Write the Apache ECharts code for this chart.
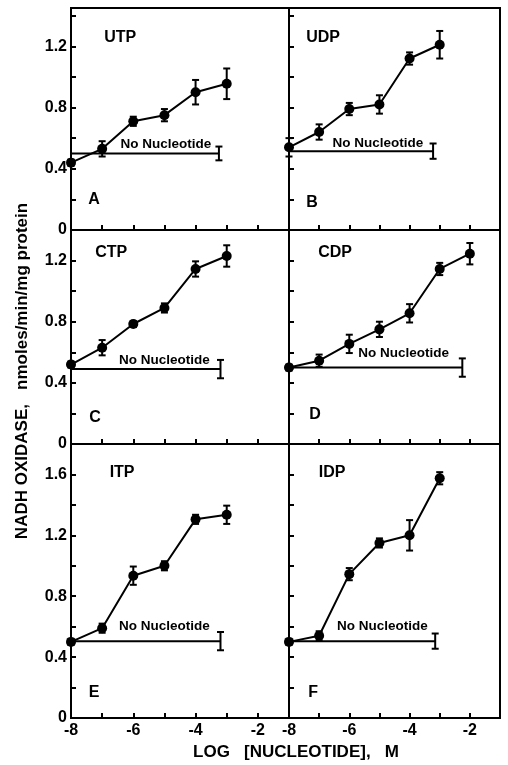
<!DOCTYPE html>
<html>
<head>
<meta charset="utf-8">
<script src="https://cdn.jsdelivr.net/npm/echarts@6/dist/echarts.min.js"></script>
<style>
  html, body { margin: 0; background: #fff; }
  #chart { width: 508px; height: 765px; }
</style>
</head>
<body>
<div id="chart"></div>
<script>
// log [nucleotide] values (M)
const logConc = [-8, -7, -6, -5, -4, -3];
const logConcCDP = [-8, -7, -6, -5, -4, -3, -2];

// NADH oxidase, nmoles/min/mg protein, with error half-widths
const utp = [0.44, 0.53, 0.71, 0.75, 0.90, 0.955];
const utpErr = [0.02, 0.05, 0.03, 0.04, 0.08, 0.10];
const udp = [0.54, 0.64, 0.79, 0.82, 1.12, 1.21];
const udpErr = [0.06, 0.05, 0.04, 0.06, 0.04, 0.09];
const ctp = [0.52, 0.63, 0.785, 0.89, 1.145, 1.23];
const ctpErr = [0.02, 0.05, 0.02, 0.03, 0.05, 0.07];
const cdp = [0.50, 0.545, 0.655, 0.75, 0.855, 1.145, 1.245];
const cdpErr = [0.02, 0.04, 0.06, 0.05, 0.06, 0.04, 0.07];
const itp = [0.50, 0.59, 0.935, 1.0, 1.305, 1.335];
const itpErr = [0.02, 0.03, 0.06, 0.03, 0.03, 0.06];
const idp = [0.50, 0.54, 0.945, 1.15, 1.20, 1.575];
const idpErr = [0.02, 0.03, 0.04, 0.03, 0.10, 0.04];

// "No Nucleotide" control level per panel (A..F), where it ends, and its error
const noNucLevel = [0.50, 0.515, 0.49, 0.50, 0.505, 0.505];
const noNucEnd = [-3.25, -3.22, -3.2, -2.25, -3.2, -3.15];
const noNucErr = [0.045, 0.05, 0.06, 0.06, 0.06, 0.05];

const panelNames = ['UTP', 'UDP', 'CTP', 'CDP', 'ITP', 'IDP'];
const panelLetters = ['A', 'B', 'C', 'D', 'E', 'F'];
const xTickLabels = [-8, -6, -4, -2];
const yTickLabels = [0, 0.4, 0.8, 1.2, 1.6];

const panels = [
  { x: logConc, y: utp, err: utpErr },
  { x: logConc, y: udp, err: udpErr },
  { x: logConc, y: ctp, err: ctpErr },
  { x: logConcCDP, y: cdp, err: cdpErr },
  { x: logConc, y: itp, err: itpErr },
  { x: logConc, y: idp, err: idpErr }
];

// layout
const colLeft = [71, 289];
const colWidth = [218, 211];
const rowTop = [8, 230, 444];
const rowHeight = [222, 214, 274];
const rowMax = [1.45, 1.4, 1.8];

const FONT = "'Liberation Sans', Arial, sans-serif";

const grids = [], xAxes = [], yAxes = [], series = [];

function errBar(params, api) {
  const x = api.value(0);
  const top = api.coord([x, api.value(2)]);
  const bot = api.coord([x, api.value(1)]);
  const w = 3.5;
  const st = { stroke: '#000', lineWidth: 2 };
  return {
    type: 'group',
    children: [
      { type: 'line', shape: { x1: top[0], y1: top[1], x2: bot[0], y2: bot[1] }, style: st },
      { type: 'line', shape: { x1: top[0] - w, y1: top[1], x2: top[0] + w, y2: top[1] }, style: st },
      { type: 'line', shape: { x1: bot[0] - w, y1: bot[1], x2: bot[0] + w, y2: bot[1] }, style: st }
    ]
  };
}

panels.forEach((p, i) => {
  const row = Math.floor(i / 2), col = i % 2;
  grids.push({
    left: colLeft[col], top: rowTop[row],
    width: colWidth[col], height: rowHeight[row],
    show: true, borderColor: '#000', borderWidth: 2
  });
  xAxes.push({
    gridIndex: i, type: 'value', min: -8, max: -1, interval: 1,
    axisLine: { lineStyle: { color: '#000', width: 2 } },
    axisTick: { inside: true, length: 5, lineStyle: { color: '#000', width: 2 } },
    axisLabel: {
      show: row === 2, color: '#000', fontFamily: FONT, fontWeight: 'bold', fontSize: 16, margin: 5,
      formatter: v => xTickLabels.includes(v) ? String(v) : ''
    },
    splitLine: { show: false }
  });
  yAxes.push({
    gridIndex: i, type: 'value', min: 0, max: rowMax[row], interval: 0.2,
    axisLine: { lineStyle: { color: '#000', width: 2 } },
    axisTick: { inside: true, length: 5, lineStyle: { color: '#000', width: 2 } },
    axisLabel: {
      show: col === 0, color: '#000', fontFamily: FONT, fontWeight: 'bold', fontSize: 16, margin: 4,
      formatter: v => {
        const hit = yTickLabels.find(t => Math.abs(t - v) < 1e-6);
        return hit === undefined ? '' : (hit === 0 ? '0' : hit.toFixed(1));
      }
    },
    splitLine: { show: false }
  });

  const pts = p.x.map((x, k) => [x, p.y[k]]);
  const bars = p.x.map((x, k) => [x, p.y[k] - p.err[k], p.y[k] + p.err[k]]);
  bars.push([noNucEnd[i], noNucLevel[i] - noNucErr[i], noNucLevel[i] + noNucErr[i]]);

  series.push({
    type: 'line', xAxisIndex: i, yAxisIndex: i, data: [[-8, noNucLevel[i]], [noNucEnd[i], noNucLevel[i]]],
    symbol: 'none', clip: false, lineStyle: { color: '#000', width: 2 }, silent: true
  });
  series.push({
    type: 'custom', xAxisIndex: i, yAxisIndex: i, data: bars,
    encode: { x: 0, y: [1, 2] }, renderItem: errBar, clip: false, z: 3
  });
  series.push({
    type: 'line', xAxisIndex: i, yAxisIndex: i, data: pts,
    symbol: 'circle', symbolSize: 10, clip: false, z: 4,
    lineStyle: { color: '#000', width: 2 }, itemStyle: { color: '#000' }
  });
});

const chart = echarts.init(document.getElementById('chart'), null, { renderer: 'canvas' });
chart.setOption({
  animation: false,
  backgroundColor: '#fff',
  grid: grids, xAxis: xAxes, yAxis: yAxes, series: series
});

// annotations placed in data coordinates of each panel
const titlePos = [[-6.42, 1.254], [-6.87, 1.254], [-6.71, 1.25], [-6.47, 1.255], [-6.36, 1.61], [-6.57, 1.61]];
const letterPos = [[-7.26, 0.196], [-7.24, 0.18], [-7.23, 0.17], [-7.14, 0.19], [-7.26, 0.165], [-7.2, 0.17]];
const noNucPos = [[-4.95, 0.56], [-5.05, 0.565], [-5.0, 0.545], [-4.2, 0.595], [-5.0, 0.60], [-4.9, 0.60]];

const graphics = [];
function addText(i, pos, text, font) {
  const px = chart.convertToPixel({ gridIndex: i }, pos);
  graphics.push({
    type: 'text', x: px[0], y: px[1], z: 10,
    style: { text: text, font: font, fill: '#000', textAlign: 'center', textVerticalAlign: 'middle' }
  });
}
panelNames.forEach((name, i) => {
  addText(i, titlePos[i], name, 'bold 16px ' + FONT);
  addText(i, letterPos[i], panelLetters[i], 'bold 16px ' + FONT);
  addText(i, noNucPos[i], 'No Nucleotide', 'bold 13.5px ' + FONT);
});
graphics.push({
  type: 'text', x: 22, y: 371, rotation: Math.PI / 2,
  style: { text: 'NADH OXIDASE,   nmoles/min/mg protein', font: 'bold 17px ' + FONT, fill: '#000',
           textAlign: 'center', textVerticalAlign: 'middle' }
});
graphics.push({
  type: 'text', x: 296, y: 752,
  style: { text: 'LOG   [NUCLEOTIDE],   M', font: 'bold 17px ' + FONT, fill: '#000',
           textAlign: 'center', textVerticalAlign: 'middle' }
});
chart.setOption({ graphic: graphics });

window.onresize = function () {
  chart.resize();
};
</script>
</body>
</html>
